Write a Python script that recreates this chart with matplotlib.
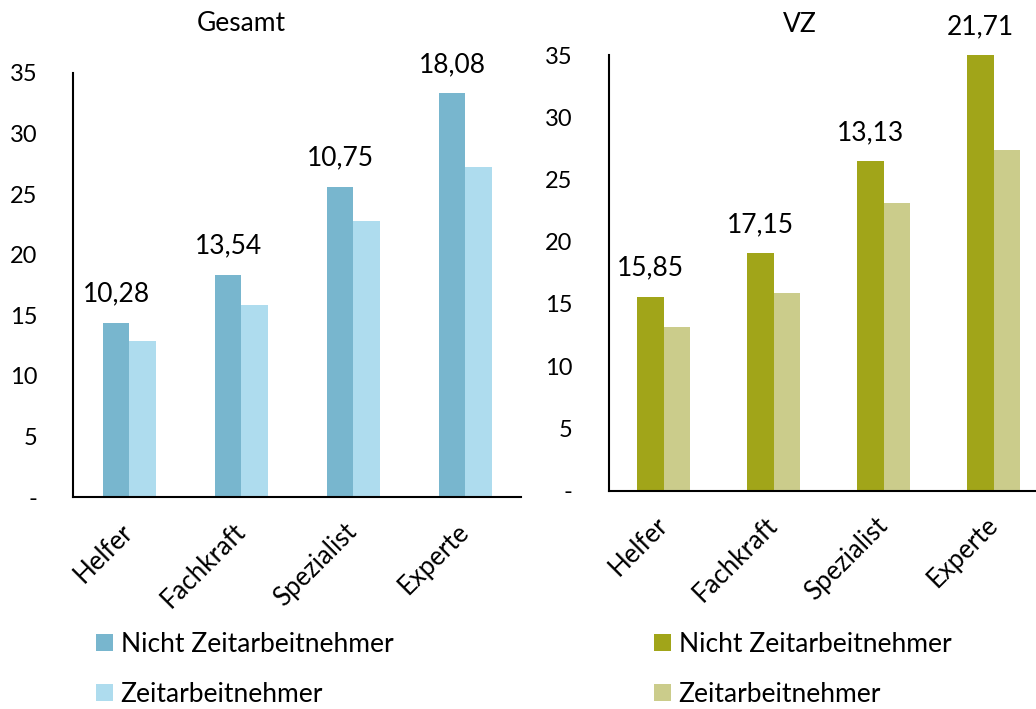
import matplotlib
matplotlib.use("Agg")
import matplotlib.pyplot as plt
from matplotlib.patches import Patch
import numpy as np

plt.rcParams['font.family'] = ['Lato', 'DejaVu Sans']

categories = ["Helfer", "Fachkraft", "Spezialist", "Experte"]
series_names = ["Nicht Zeitarbeitnehmer", "Zeitarbeitnehmer"]

gesamt_nicht = [14.4, 18.35, 25.6, 33.3]
gesamt_zeit = [12.9, 15.85, 22.8, 27.25]
gesamt_labels = ["10,28", "13,54", "10,75", "18,08"]

vz_nicht = [15.6, 19.1, 26.5, 35.0]
vz_zeit = [13.15, 15.85, 23.1, 27.4]
vz_labels = ["15,85", "17,15", "13,13", "21,71"]

yticks = [0, 5, 10, 15, 20, 25, 30, 35]
ytick_labels = ["-", "5", "10", "15", "20", "25", "30", "35"]

colors_g = ["#78B6CE", "#AEDCEE"]
colors_v = ["#A1A519", "#CBCC8B"]

W, H = 1036, 709
fig = plt.figure(figsize=(W / 100, H / 100), dpi=100)

def px_axes(x0, y_top, x1, y_bot):
    return fig.add_axes([x0 / W, 1 - y_bot / H, (x1 - x0) / W, (y_bot - y_top) / H])

FS_TICK = 17
FS = 19
FS_CAT = 18.5

def draw(ax, a, b, labels, colors, bw):
    x = np.arange(len(categories))
    ax.bar(x - bw / 2, a, bw, color=colors[0])
    ax.bar(x + bw / 2, b, bw, color=colors[1])
    for xi, v, lab in zip(x, a, labels):
        ax.annotate(lab, (xi - bw / 2, v), xytext=(0, 20.5), textcoords="offset points",
                    ha="center", va="center", fontsize=FS)
    ax.set_xlim(-0.5, len(categories) - 0.5)
    ax.set_ylim(0, 35)
    ax.set_yticks(yticks)
    ax.set_yticklabels(ytick_labels, fontsize=FS_TICK)
    ax.set_xticks(x)
    ax.set_xticklabels(categories, fontsize=FS_CAT, rotation=45, ha="right",
                       rotation_mode="anchor", va="center")
    ax.tick_params(axis="y", length=0, pad=26)
    ax.tick_params(axis="x", length=0, pad=22)
    for s in ["top", "right"]:
        ax.spines[s].set_visible(False)
    for s in ["left", "bottom"]:
        ax.spines[s].set_linewidth(1.5)
        ax.spines[s].set_color("black")
    ax.set_facecolor("none")

ax1 = px_axes(73.3, 72.7, 521.3, 497.3)
draw(ax1, gesamt_nicht, gesamt_zeit, gesamt_labels, colors_g, 0.237)
ax2 = px_axes(608.7, 55, 1048.7, 490.7)
draw(ax2, vz_nicht, vz_zeit, vz_labels, colors_v, 0.24)

fig.text(241.7 / W, 1 - 23.3 / H, "Gesamt", ha="center", va="center", fontsize=FS)
fig.text(800 / W, 1 - 25 / H, "VZ", ha="center", va="center", fontsize=FS)

def legend(colors, x_px, y_px):
    handles = [Patch(facecolor=c, edgecolor="none") for c in colors]
    fig.legend(handles, series_names, loc="upper left",
               bbox_to_anchor=(x_px / W, 1 - y_px / H), frameon=False,
               fontsize=FS, handlelength=0.63, handleheight=0.63, handletextpad=0.3,
               labelspacing=0.95, borderpad=0, borderaxespad=0)

legend(colors_g, 96, 632)
legend(colors_v, 654, 632)

fig.savefig("out.png", dpi=100)
